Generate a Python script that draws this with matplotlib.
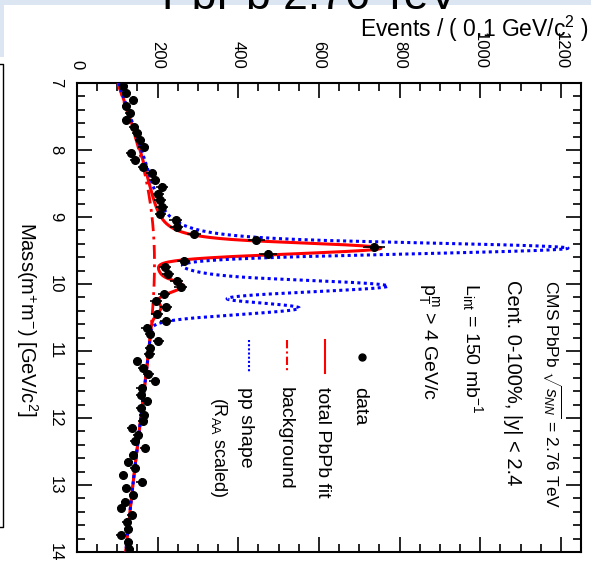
import math
import numpy as np
import matplotlib
matplotlib.use("Agg")
import matplotlib.pyplot as plt
from matplotlib.patches import Rectangle
from matplotlib.lines import Line2D
from matplotlib.ticker import MultipleLocator

plt.rcParams['font.family'] = ['Liberation Sans', 'DejaVu Sans']
plt.rcParams['mathtext.fontset'] = 'custom'
plt.rcParams['mathtext.rm'] = 'Liberation Sans'
plt.rcParams['mathtext.it'] = 'Liberation Sans:italic'
plt.rcParams['mathtext.bf'] = 'Liberation Sans:bold'

# dimuon mass, 0.1 GeV bins between 7 and 14 GeV
mass = np.arange(7.05, 14.0, 0.1)
events = [115, 122, 140, 122, 131, 122, 141, 148, 156, 165,
          133, 144, 163, 185, 193, 210, 202, 206, 210, 207,
          245, 247, 290, 445, 737, 474, 265, 218, 226, 247,
          257, 216, 196, 221, 198, 221, 173, 181, 202, 181,
          179, 150, 163, 177, 193, 160, 158, 173, 159, 166,
          163, 136, 152, 144, 169, 140, 127, 144, 115, 160,
          122, 140, 119, 109, 136, 123, 127, 108, 127, 130]

# fit shapes (parameters)
bkg_norm, bkg_decay, bkg_turn, bkg_width = 813.0, 7.35, 7.75, 2.3
ups_mass = [9.465, 10.028, 10.36]
ups_sigma = [0.085, 0.09, 0.093]
pbpb_height = [560, 70, 20]
pp_height = [1005, 550, 363]
cb_alpha, cb_n = 1.2, 2.0


def crystal_ball(m, mu, sig):
    t = (m - mu) / sig
    a = (cb_n / cb_alpha) ** cb_n * np.exp(-cb_alpha ** 2 / 2)
    b = cb_n / cb_alpha - cb_alpha
    tail = a * np.maximum(b - t, 1e-3) ** (-cb_n)
    return np.where(t > -cb_alpha, np.exp(-t ** 2 / 2), tail)


m_fine = np.linspace(7.0, 14.0, 1401)
erf = np.vectorize(math.erf)
bkg = bkg_norm * np.exp(-m_fine / bkg_decay) * 0.5 * (1 + erf((m_fine - bkg_turn) / bkg_width))
total = bkg.copy()
pp_shape = bkg.copy()
for mu, sig, h1, h2 in zip(ups_mass, ups_sigma, pbpb_height, pp_height):
    total += h1 * crystal_ball(m_fine, mu, sig)
    pp_shape += h2 * crystal_ball(m_fine, mu, sig)

fig = plt.figure(figsize=(5.91, 5.67), dpi=100)
W, H = 591, 567

# page decoration around the rotated picture
lightblue = '#dce6f2'
fig.patches.append(Rectangle((0, 1 - 5 / H), 1, 5 / H, transform=fig.transFigure,
                             facecolor=lightblue, edgecolor='none'))
fig.patches.append(Rectangle((0, 1 - 57 / H), 4 / W, 57 / H, transform=fig.transFigure,
                             facecolor=lightblue, edgecolor='none'))
fig.lines.append(Line2D([0, 3 / W, 3 / W, 0], [1 - 64 / H, 1 - 64 / H, 1 - 527 / H, 1 - 527 / H],
                        transform=fig.transFigure, color='black', lw=1))
fig.text(310 / W, 1 - 9 / H, 'PbPb 2.76 TeV', fontsize=32, ha='center', va='baseline')

ax = fig.add_axes([77 / W, 15 / H, 504 / W, 469 / H])

ax.plot(bkg, m_fine, color='red', lw=2, ls=(0, (5, 2, 1, 2)), zorder=2)
ax.plot(total, m_fine, color='red', lw=2.2, zorder=3)
ax.plot(pp_shape, m_fine, color='blue', lw=2.2, ls=(0, (1, 1.1)), zorder=4)
ax.errorbar(events, mass, xerr=np.sqrt(events), yerr=0.05, fmt='o', color='black',
            ms=5.5, elinewidth=1.2, capsize=0, zorder=5)

ax.set_xlim(0, 1250)
ax.set_ylim(14, 7)
ax.xaxis.set_major_locator(MultipleLocator(200))
ax.xaxis.set_minor_locator(MultipleLocator(50))
ax.yaxis.set_major_locator(MultipleLocator(1))
ax.yaxis.set_minor_locator(MultipleLocator(0.2))
ax.tick_params(which='both', direction='in', top=True, bottom=True, left=True, right=True,
               labeltop=True, labelbottom=False, labelsize=12, width=1.2, pad=10)
ax.tick_params(which='major', length=11)
ax.tick_params(which='minor', length=5.5)
plt.setp(ax.get_xticklabels(), rotation=-90)
plt.setp(ax.get_yticklabels(), rotation=-90, va='center')
for s in ax.spines.values():
    s.set_linewidth(1.5)

fig.text(589 / W, 1 - 29 / H, 'Events / ( 0.1 GeV/c$^{2}$ )', fontsize=16.5, ha='right', va='center')
fig.text(27 / W, 1 - 319 / H, 'Mass(m$^{+}$m$^{-}$) [GeV/c$^{2}$]', fontsize=14.5,
         rotation=-90, ha='center', va='center')

# rotated labels
tr = ax.transAxes
ax.text(0.942, 0.58, r'CMS PbPb $\sqrt{s_{NN}}$ = 2.76 TeV', transform=tr, rotation=-90,
        ha='center', va='top', fontsize=12.5)
ax.text(0.865, 0.58, 'Cent. 0-100%, |y| < 2.4', transform=tr, rotation=-90,
        ha='center', va='top', fontsize=14.5)
ax.text(0.784, 0.574, r'L$_{\mathrm{int}}$ = 150 mb$^{-1}$', transform=tr, rotation=-90,
        ha='center', va='top', fontsize=14)
ax.text(0.698, 0.574, r'p$_{\mathrm{T}}^{\mathrm{m}}$ > 4 GeV/c', transform=tr, rotation=-90,
        ha='center', va='top', fontsize=14)

# legend, drawn by hand because it is rotated
ax.plot([0.566], [0.416], 'o', color='black', ms=5, transform=tr)
ax.plot([0.492, 0.492], [0.452, 0.382], color='red', lw=1.5, transform=tr)
ax.plot([0.416, 0.416], [0.452, 0.382], color='red', lw=1.5, ls=(0, (4, 1.5, 1, 1.5)), transform=tr)
ax.plot([0.342, 0.342], [0.452, 0.382], color='blue', lw=1.5, ls=(0, (1, 1)), transform=tr)
legend_text = ['data', 'total PbPb fit', 'background', 'pp shape']
legend_x = [0.561, 0.488, 0.413, 0.335]
for lab, xx in zip(legend_text, legend_x):
    ax.text(xx, 0.352, lab, transform=tr, rotation=-90, ha='center', va='top', fontsize=14)
ax.text(0.280, 0.33, r'(R$_{\mathrm{AA}}$ scaled)', transform=tr, rotation=-90,
        ha='center', va='top', fontsize=13)

fig.savefig('out.png', dpi=100)
